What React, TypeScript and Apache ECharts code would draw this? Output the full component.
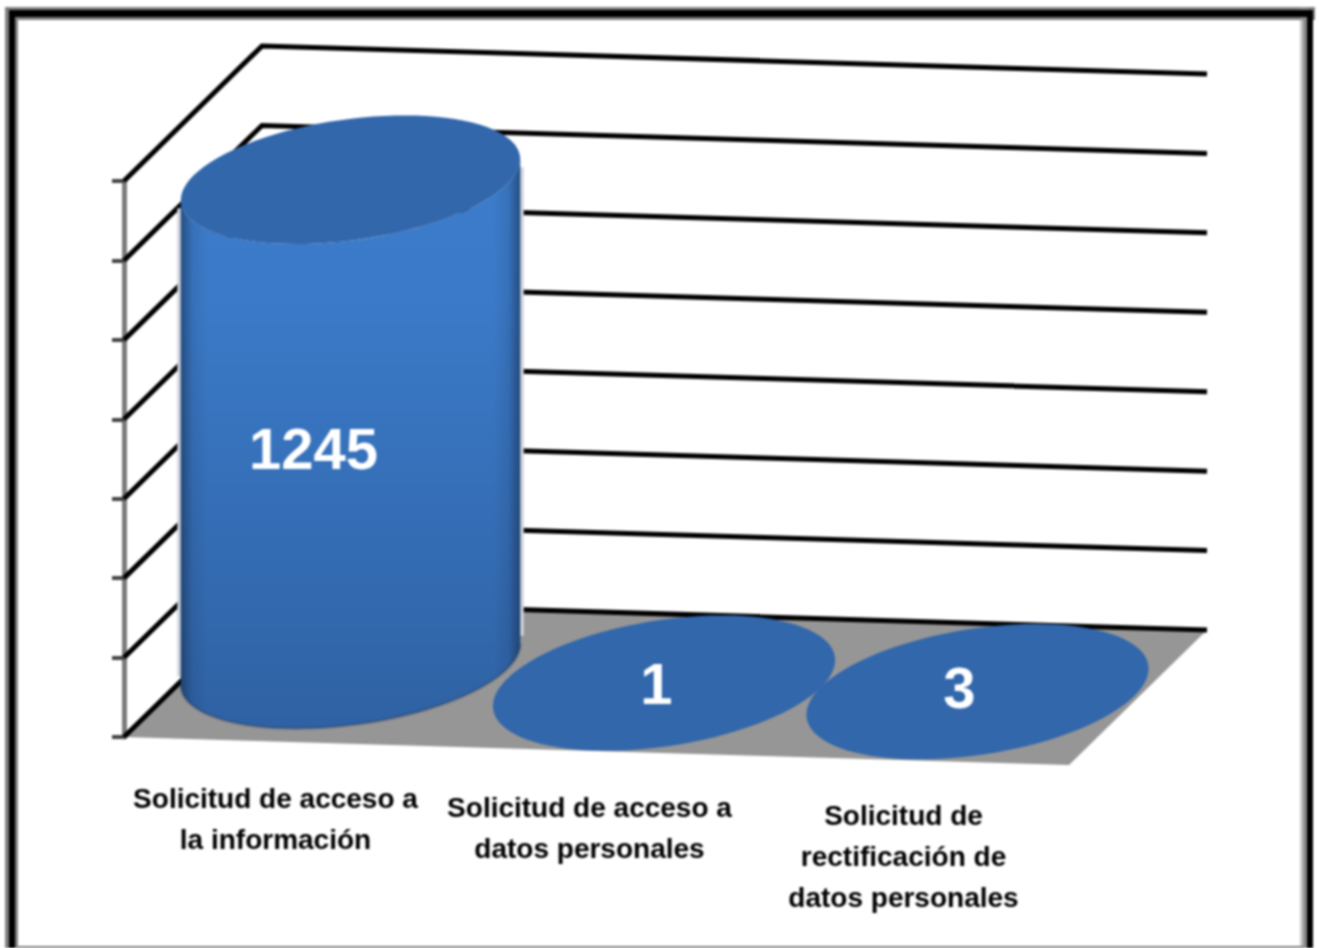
import React, { useEffect, useRef } from "react";
import * as echarts from "echarts";

const categories = [
  "Solicitud de acceso a\nla información",
  "Solicitud de acceso a\ndatos personales",
  "Solicitud de\nrectificación de\ndatos personales",
];
const values = [1245, 1, 3];
const tickValues = [0, 200, 400, 600, 800, 1000, 1200, 1400];

// Oblique projection of the 3D box onto the flat grid
const DEPTH_X = 138;
const DEPTH_Y = 135;
const SHEAR = 28 / 945;
const ELLIPSE_STEPS = 96;
const TALL_ROUNDNESS = 0.95;
const TALL_BASE_LIFT = 10;
const DISC_SHIFT_X = -1.5;
const LABEL_OFFSETS = [
  [-37, 22],
  [-9, 0],
  [-21, -5],
];

const FONT = '"Liberation Sans", Arial, sans-serif';

function project(x: number, y: number, left: number, depth: number): number[] {
  return [x + depth * DEPTH_X, y + (x - left) * SHEAR - depth * DEPTH_Y];
}

function ellipsePoint(c: number[], halfBand: number, t: number, k = 1): number[] {
  const ux = halfBand * 0.994;
  const uy = ux * SHEAR;
  const vx = (k * DEPTH_X) / 2;
  const vy = (-k * DEPTH_Y) / 2;
  return [c[0] + Math.cos(t) * ux + Math.sin(t) * vx, c[1] + Math.cos(t) * uy + Math.sin(t) * vy];
}

function ellipse(c: number[], halfBand: number, k = 1): number[][] {
  const pts: number[][] = [];
  for (let i = 0; i < ELLIPSE_STEPS; i++) pts.push(ellipsePoint(c, halfBand, (i / ELLIPSE_STEPS) * Math.PI * 2, k));
  return pts;
}

const renderFloor = (params: any, api: any) => {
  const cs = params.coordSys;
  const y0 = api.coord([0, 0])[1];
  const l = cs.x;
  const r = cs.x + cs.width;
  return {
    type: "polygon",
    shape: {
      points: [project(l, y0, l, 0), project(r, y0, l, 0), project(r, y0, l, 1), project(l, y0, l, 1)],
    },
    style: { fill: "#969696", stroke: "none" },
  };
};

const renderWallLine = (params: any, api: any) => {
  const cs = params.coordSys;
  const y = api.coord([0, api.value(0)])[1];
  const l = cs.x;
  const r = cs.x + cs.width;
  return {
    type: "polyline",
    shape: { points: [project(l, y, l, 0), project(l, y, l, 1), project(r, y, l, 1)] },
    style: { stroke: "#000000", lineWidth: 5, fill: "none" },
  };
};

const renderCylinder = (params: any, api: any) => {
  const cs = params.coordSys;
  const l = cs.x;
  const idx = api.value(0);
  const val = api.value(1);
  const halfBand = api.size([1, 0])[0] / 2;
  const base = api.coord([idx, 0]);
  const top = api.coord([idx, val]);
  const cBase = project(base[0], base[1], l, 0.5);
  const cTop = project(top[0], top[1], l, 0.5);
  const children: any[] = [];
  const height = cBase[1] - cTop[1];
  const tall = height > 5;
  const k = tall ? TALL_ROUNDNESS : 1;
  if (tall) {
    cBase[1] -= TALL_BASE_LIFT;
    const t0 = Math.atan2((k * DEPTH_X) / 2, halfBand * 0.994);
    const front: number[][] = [];
    for (let i = 0; i <= ELLIPSE_STEPS / 2; i++) {
      front.push(ellipsePoint(cBase, halfBand, t0 - (i / (ELLIPSE_STEPS / 2)) * Math.PI, k));
    }
    const topFront: number[][] = [];
    for (let i = ELLIPSE_STEPS / 2; i >= 0; i--) {
      topFront.push(ellipsePoint(cTop, halfBand, t0 - (i / (ELLIPSE_STEPS / 2)) * Math.PI, k));
    }
    const rightB = front[0];
    const leftB = front[front.length - 1];
    const rightT = ellipsePoint(cTop, halfBand, t0, k);
    const leftT = ellipsePoint(cTop, halfBand, t0 - Math.PI, k);
    const side = front.concat(topFront);
    for (const [a, b] of [
      [leftT, leftB],
      [rightT, rightB],
    ]) {
      children.push({
        type: "line",
        shape: { x1: a[0], y1: a[1] + 8, x2: b[0], y2: b[1] - 8 },
        style: { stroke: "#d0d3da", lineWidth: 7 },
      });
    }
    children.push({
      type: "polygon",
      shape: { points: side },
      style: {
        fill: {
          type: "linear",
          x: 0,
          y: 0,
          x2: 0,
          y2: 1,
          colorStops: [
            { offset: 0, color: "#3c7cca" },
            { offset: 0.25, color: "#3b7ac8" },
            { offset: 1, color: "#2f62a4" },
          ],
        },
      },
    });
    children.push({
      type: "polygon",
      shape: { points: side },
      style: {
        fill: {
          type: "linear",
          x: 0,
          y: 0,
          x2: 1,
          y2: 0,
          colorStops: [
            { offset: 0, color: "rgba(20,40,70,0.55)" },
            { offset: 0.035, color: "rgba(20,40,70,0.12)" },
            { offset: 0.08, color: "rgba(20,40,70,0)" },
            { offset: 0.92, color: "rgba(20,40,70,0)" },
            { offset: 0.965, color: "rgba(20,40,70,0.12)" },
            { offset: 1, color: "rgba(20,40,70,0.55)" },
          ],
        },
      },
    });
    children.push({
      type: "polyline",
      shape: { points: front },
      style: { stroke: "rgba(25,50,90,0.3)", lineWidth: 3, fill: "none" },
    });
  } else {
    cTop[0] += idx * DISC_SHIFT_X;
  }
  children.push({
    type: "polygon",
    shape: { points: ellipse(cTop, halfBand, k) },
    style: { fill: "#3267ab" },
  });
  return { type: "group", children };
};

const renderValueLabel = (params: any, api: any) => {
  const cs = params.coordSys;
  const l = cs.x;
  const idx = api.value(0);
  const val = api.value(1);
  const mid = api.coord([idx, val / 2]);
  const p = project(mid[0], mid[1], l, 0.5);
  const off = LABEL_OFFSETS[idx];
  return {
    type: "text",
    style: {
      text: String(val),
      x: p[0] + off[0],
      y: p[1] + off[1],
      textAlign: "center",
      textVerticalAlign: "middle",
      font: `bold 58px ${FONT}`,
      fill: "#ffffff",
    },
  };
};

const renderCategoryLabel = (params: any, api: any) => {
  const cs = params.coordSys;
  const l = cs.x;
  const idx = api.value(0);
  const base = api.coord([idx, 0]);
  const p = project(base[0], base[1], l, 0);
  return {
    type: "text",
    style: {
      text: categories[idx],
      x: p[0] - 6 - idx,
      y: p[1] + 36 - idx * 0.5,
      textAlign: "center",
      textVerticalAlign: "top",
      font: `bold 28px ${FONT}`,
      lineHeight: 41,
      fill: "#000000",
    },
  };
};

const frameRects = [
  // outer grey band
  { x: 5, y: 7, width: 1310, height: 13, fill: "#808080" },
  { x: 5, y: 7, width: 13, height: 941, fill: "#808080" },
  { x: 1300, y: 7, width: 7, height: 941, fill: "#8a8a8a" },
  { x: 1300, y: 20, width: 3, height: 928, fill: "#c8c8c8" },
  { x: 18, y: 946, width: 1285, height: 2, fill: "#808080" },
  // black core
  { x: 9, y: 10, width: 1304, height: 7, fill: "#000000" },
  { x: 9, y: 10, width: 6, height: 938, fill: "#000000" },
  { x: 1307, y: 10, width: 6, height: 938, fill: "#000000" },
];

export default function App() {
  const ref = useRef<HTMLDivElement>(null);
  useEffect(() => {
    document.body.style.margin = "0";
    const chart = echarts.init(ref.current!, null, { renderer: "svg", width: 1319, height: 948 });
    const indexed = values.map((v, i) => [i, v]);
    chart.setOption({
      animation: false,
      backgroundColor: "#ffffff",
      grid: { left: 124, right: 250, top: 181, bottom: 211, containLabel: false },
      xAxis: {
        type: "category",
        data: categories,
        axisLine: { show: false },
        axisTick: { show: false },
        axisLabel: { show: false },
        splitLine: { show: false },
      },
      yAxis: {
        type: "value",
        min: 0,
        max: 1400,
        interval: 200,
        axisLine: { show: true, lineStyle: { color: "#7a7a7a", width: 5 } },
        axisTick: { show: true, length: 12, lineStyle: { color: "#444444", width: 4 } },
        axisLabel: { show: false },
        splitLine: { show: false },
      },
      graphic: frameRects.map((r) => ({
        type: "rect",
        z: 0,
        shape: { x: r.x, y: r.y, width: r.width, height: r.height },
        style: { fill: r.fill },
        silent: true,
      })),
      series: [
        { type: "custom", z: 1, clip: false, silent: true, data: [[0]], renderItem: renderFloor, encode: { y: 0 } },
        {
          type: "custom",
          z: 2,
          clip: false,
          silent: true,
          data: tickValues.map((v) => [v]),
          renderItem: renderWallLine,
          encode: { y: 0 },
        },
        {
          type: "custom",
          name: "Solicitudes",
          z: 3,
          clip: false,
          silent: true,
          data: indexed,
          renderItem: renderCylinder,
          encode: { x: 0, y: 1 },
        },
        {
          type: "custom",
          z: 4,
          clip: false,
          silent: true,
          data: indexed,
          renderItem: renderValueLabel,
          encode: { x: 0, y: 1 },
        },
        {
          type: "custom",
          z: 4,
          clip: false,
          silent: true,
          data: indexed,
          renderItem: renderCategoryLabel,
          encode: { x: 0, y: 1 },
        },
      ],
    });
    return () => chart.dispose();
  }, []);
  return (
    <div
      ref={ref}
      style={{ position: "fixed", left: 0, top: 0, width: 1319, height: 948, filter: "blur(0.8px)" }}
    />
  );
}
